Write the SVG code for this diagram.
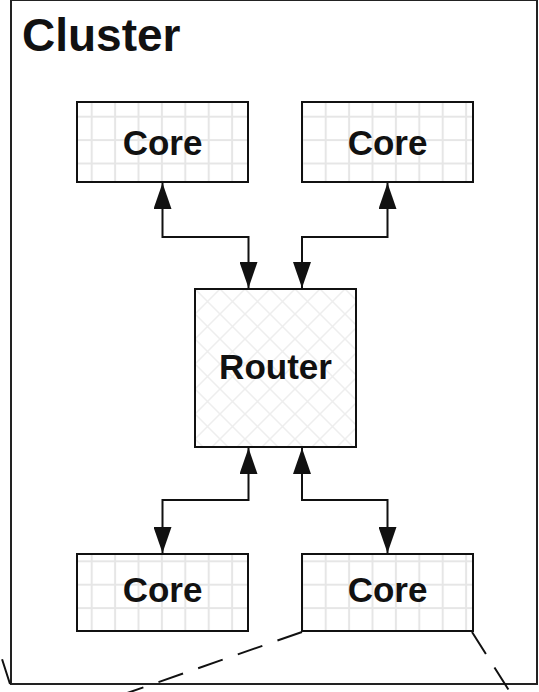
<svg xmlns="http://www.w3.org/2000/svg" width="539" height="692" viewBox="0 0 539 692">
  <style>
    .frame { fill: #ffffff; stroke: #222222; stroke-width: 2; }
    .core { fill: url(#grid); stroke: #111111; stroke-width: 2; }
    .router { fill: url(#hatch); stroke: #111111; stroke-width: 2; }
    .label { font-family: "Liberation Sans", Arial, sans-serif; font-weight: bold; fill: #111111; text-anchor: middle; }
    .link { fill: none; stroke: #111111; stroke-width: 2; marker-start: url(#arrow); marker-end: url(#arrow); }
    .zoom { fill: none; stroke: #111111; stroke-width: 2; stroke-dasharray: 26 16; }
  </style>
  <defs>
    <!-- light square grid used inside the core boxes -->
    <pattern id="grid" patternUnits="userSpaceOnUse" x="80" y="105" width="23.4" height="23.4">
      <rect width="23.4" height="23.4" fill="#ffffff"/>
      <path d="M11.7,0 V23.4 M0,11.7 H23.4" stroke="#e6e6e6" stroke-width="2" fill="none"/>
    </pattern>
    <!-- faint diamond cross-hatch used inside the router -->
    <pattern id="hatch" patternUnits="userSpaceOnUse" x="195" y="289" width="25" height="25">
      <rect width="25" height="25" fill="#ffffff"/>
      <path d="M0,0 L25,25 M25,0 L0,25" stroke="#eeeeee" stroke-width="1.5" fill="none"/>
    </pattern>
    <marker id="arrow" viewBox="0 0 26 18" refX="26" refY="9" markerWidth="26" markerHeight="18" markerUnits="userSpaceOnUse" orient="auto-start-reverse">
      <path d="M0,0 L26,9 L0,18 Z" fill="#111111"/>
    </marker>
  </defs>

  <!-- cluster frame -->
  <g id="cluster">
    <rect class="frame" x="11" y="0" width="526" height="684"/>
    <text class="label" x="22" y="51" font-size="46" style="text-anchor:start">Cluster</text>
  </g>

  <g id="core-top-left">
    <rect class="core" x="77" y="102" width="171" height="80"/>
    <text class="label" x="162.5" y="155" font-size="35">Core</text>
  </g>
  <g id="core-top-right">
    <rect class="core" x="302" y="102" width="171" height="80"/>
    <text class="label" x="387.5" y="155" font-size="35">Core</text>
  </g>
  <g id="router">
    <rect class="router" x="195" y="289" width="161" height="158"/>
    <text class="label" x="275.5" y="379" font-size="35">Router</text>
  </g>
  <g id="core-bottom-left">
    <rect class="core" x="77" y="554" width="171" height="77"/>
    <text class="label" x="162.5" y="602" font-size="35">Core</text>
  </g>
  <g id="core-bottom-right">
    <rect class="core" x="302" y="554" width="171" height="77"/>
    <text class="label" x="387.5" y="602" font-size="35">Core</text>
  </g>

  <!-- bidirectional links between the router and each core -->
  <g id="connectors">
    <path class="link" d="M162.5,183 V237 H248.5 V288"/>
    <path class="link" d="M387.5,183 V237 H302 V288"/>
    <path class="link" d="M248.5,448 V500 H162.5 V553"/>
    <path class="link" d="M302,448 V500 H387.5 V553"/>
    <!-- dashed projection lines leaving the lower right core and the frame corner -->
    <path class="zoom" d="M302,632 L120,695.5"/>
    <path class="zoom" d="M472,632 L510,692"/>
    <path class="zoom" d="M10,684 L-30,559"/>
  </g>
</svg>
